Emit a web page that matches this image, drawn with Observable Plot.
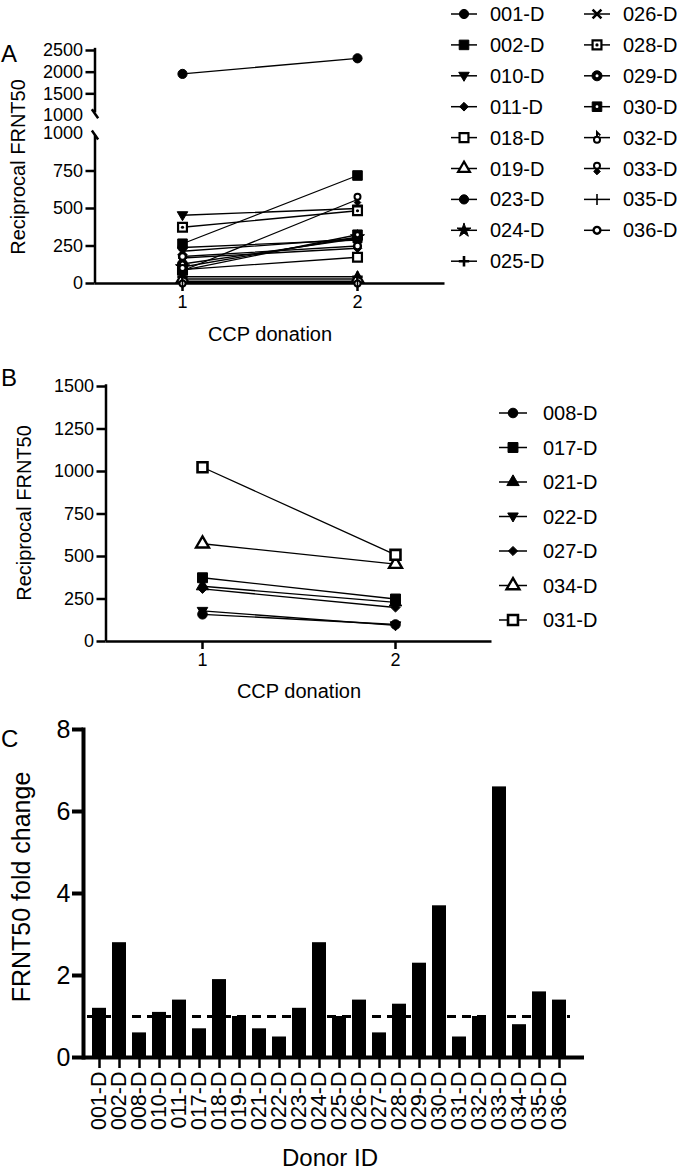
<!DOCTYPE html>
<html><head><meta charset="utf-8">
<script src="https://cdn.jsdelivr.net/npm/d3@7"></script>
<script src="https://cdn.jsdelivr.net/npm/@observablehq/plot@0.6"></script>
<style>
html,body{margin:0;padding:0;background:#fff;}
#root{position:relative;width:677px;height:1171px;overflow:hidden;font-family:'Liberation Sans',Arial,Helvetica,sans-serif;}
</style></head><body><div id="root"></div>
<script>
// ---------------- DATA ----------------
const donations = [1, 2];
const donorsA = ["001-D","002-D","010-D","011-D","018-D","019-D","023-D","024-D","025-D","026-D","028-D","029-D","030-D","032-D","033-D","035-D","036-D"];
const frnt1A  = [1960, 265, 455, 170, 92, 30, 240, 110, 45, 215, 375, 130, 88, 15, 85, 5, 180];
const frnt2A  = [2320, 720, 500, 235, 175, 30, 290, 310, 45, 300, 485, 300, 325, 15, 560, 8, 250];
const donorsB = ["008-D","017-D","021-D","022-D","027-D","034-D","031-D"];
const frnt1B  = [160, 375, 325, 180, 310, 575, 1025];
const frnt2B  = [100, 250, 230, 95, 200, 455, 510];
const donorsC = ["001-D","002-D","008-D","010-D","011-D","017-D","018-D","019-D","021-D","022-D","023-D","024-D","025-D","026-D","027-D","028-D","029-D","030-D","031-D","032-D","033-D","034-D","035-D","036-D"];
const foldC   = [1.2, 2.8, 0.6, 1.1, 1.4, 0.7, 1.9, 1.0, 0.7, 0.5, 1.2, 2.8, 1.0, 1.4, 0.6, 1.3, 2.3, 3.7, 0.5, 1.0, 6.6, 0.8, 1.6, 1.4];
const ticksAUpper = [1500, 2000, 2500];
const ticksALower = [0, 250, 500, 750];
const breakValue = 1000;
const ticksB = [0, 250, 500, 750, 1000, 1250, 1500];
const ticksC = [0, 2, 4, 6, 8];
const foldReference = 1;

// ---------------- SYMBOLS / STYLES ----------------
const rad = s => Math.sqrt(s / Math.PI);
const SYM = {
  circle: d3.symbolCircle,
  square: d3.symbolSquare,
  triangle: d3.symbolTriangle,
  star: d3.symbolStar,
  diamond: {draw(c, s){ const r = rad(s)*1.15; c.moveTo(0,-r); c.lineTo(r,0); c.lineTo(0,r); c.lineTo(-r,0); c.closePath(); }},
  triDown: {draw(c, s){ const r = rad(s); c.moveTo(-r*1.2,-r*0.8); c.lineTo(r*1.2,-r*0.8); c.lineTo(0,r*1.25); c.closePath(); }},
  plus: {draw(c, s){ const r = rad(s); c.moveTo(-r,0); c.lineTo(r,0); c.moveTo(0,-r); c.lineTo(0,r); }},
  times: {draw(c, s){ const r = rad(s)*0.85; c.moveTo(-r,-r); c.lineTo(r,r); c.moveTo(r,-r); c.lineTo(-r,r); }},
  vline: {draw(c, s){ const r = rad(s); c.moveTo(0,-r); c.lineTo(0,r); }},
  slash: {draw(c, s){ const r = rad(s); c.moveTo(-r*0.7,-r); c.lineTo(r*0.7,r); }},
  flag032: {draw(c, s){ const r = rad(s); const cr = r*0.55, cy = r*0.4;
    c.moveTo(cr, cy); c.arc(0, cy, cr, 0, 2*Math.PI);
    c.moveTo(0, cy - cr); c.lineTo(0, -r); c.lineTo(r*0.6, -r*0.4); }},
  circleTop: {draw(c, s){ const r = rad(s); const cr = r*0.5, cy = -r*0.45; c.moveTo(cr, cy); c.arc(0, cy, cr, 0, 2*Math.PI); }},
  diamondBottom: {draw(c, s){ const r = rad(s); const d = r*0.55, cy = r*0.5; c.moveTo(0,cy-d); c.lineTo(d,cy); c.lineTo(0,cy+d); c.lineTo(-d,cy); c.closePath(); }}
};
const markerLayers = {
  "001-D": [{sym:"circle", r:4.6, fill:"black"}],
  "002-D": [{sym:"square", r:5.4, fill:"black"}],
  "010-D": [{sym:"triDown", r:4.4, fill:"black"}],
  "011-D": [{sym:"diamond", r:3.8, fill:"black"}],
  "018-D": [{sym:"square", r:5, fill:"white", sw:2.2}],
  "019-D": [{sym:"triangle", r:4.4, fill:"white", sw:2.2}],
  "023-D": [{sym:"circle", r:4.6, fill:"black"}],
  "024-D": [{sym:"star", r:4.4, fill:"black"}],
  "025-D": [{sym:"plus", r:5.2, sw:2.6}],
  "026-D": [{sym:"times", r:5.2, sw:2.6}],
  "028-D": [{sym:"square", r:5, fill:"white", sw:2.2}, {sym:"circle", r:1.6, fill:"black", sw:0}],
  "029-D": [{sym:"circle", r:5, fill:"black"}, {sym:"circle", r:1.5, fill:"white", sw:0}],
  "030-D": [{sym:"square", r:5.4, fill:"black"}, {sym:"circle", r:1.4, fill:"white", sw:0}],
  "032-D": [{sym:"flag032", r:5.5, fill:"white", sw:2}],
  "033-D": [{sym:"circleTop", r:6, fill:"white", sw:2}, {sym:"diamondBottom", r:6, fill:"black"}],
  "035-D": [{sym:"vline", r:5.5, sw:1.6}],
  "036-D": [{sym:"circle", r:3.4, fill:"white", sw:2.4}],
  "008-D": [{sym:"circle", r:4.8, fill:"black"}],
  "017-D": [{sym:"square", r:5.6, fill:"black"}],
  "021-D": [{sym:"triangle", r:4.6, fill:"black"}],
  "022-D": [{sym:"triDown", r:4.4, fill:"black"}],
  "027-D": [{sym:"diamond", r:4, fill:"black"}],
  "034-D": [{sym:"triangle", r:4.8, fill:"white", sw:2.4}],
  "031-D": [{sym:"square", r:5.6, fill:"white", sw:2.6}]
};

const FONT = "'Liberation Sans', Arial, Helvetica, sans-serif";
const root = document.getElementById("root");

function longRows(donors, v1, v2) {
  const rows = [];
  donors.forEach((d, i) => { rows.push({donor: d, donation: donations[0], value: v1[i]}); rows.push({donor: d, donation: donations[1], value: v2[i]}); });
  return rows;
}
function markerMarks(rows) {
  const marks = [];
  const donors = Array.from(new Set(rows.map(d => d.donor)));
  for (const donor of donors) {
    const sub = rows.filter(d => d.donor === donor);
    for (const L of markerLayers[donor]) {
      marks.push(Plot.dot(sub, {x: "donation", y: "value", symbol: SYM[L.sym], r: L.r,
        fill: L.fill ?? "none", stroke: L.sw === 0 ? "none" : "black", strokeWidth: L.sw ?? 1}));
    }
  }
  return marks;
}
function place(svg, top) {
  svg.style.position = "absolute"; svg.style.left = "0px"; svg.style.top = top + "px";
  svg.style.overflow = "visible";
  root.appendChild(svg);
}
const baseStyle = {fontFamily: FONT, fontSize: "18px", background: "transparent", color: "black", overflow: "visible"};
const TICKFS = 18;

// ---------------- PANEL A ----------------
const rowsA = longRows(donorsA, frnt1A, frnt2A);
const rowsAUpper = rowsA.filter(d => d.value > breakValue);
const rowsALower = rowsA.filter(d => d.value <= breakValue);
const xA = {domain: [0.5, 2.5]};

const plotAUpper = Plot.plot({
  width: 677, height: 80, marginTop: 10, marginBottom: 5, marginLeft: 94.5, marginRight: 232.5,
  style: baseStyle,
  x: {...xA, axis: null},
  y: {domain: [breakValue, 2500], axis: null},
  marks: [
    Plot.ruleX([0.5], {y1: breakValue + 60, y2: 2550, strokeWidth: 2.5}),
    Plot.axisY({ticks: ticksAUpper, tickFormat: "d", tickSize: 9, tickPadding: 3, fontSize: TICKFS, strokeWidth: 2.5, label: null}),
    Plot.axisY({ticks: [breakValue], tickFormat: "d", tickSize: 0, tickPadding: 12, fontSize: TICKFS, label: null}),
    Plot.dot([breakValue], {x: () => 0.5, y: d => d + 40, symbol: SYM.slash, r: 4.5, stroke: "black", strokeWidth: 2.5, fill: "none"}),
    Plot.line(rowsAUpper, {x: "donation", y: "value", z: "donor", stroke: "black", strokeWidth: 1.3}),
    ...markerMarks(rowsAUpper)
  ]
});
place(plotAUpper, 40);

const plotALower = Plot.plot({
  width: 677, height: 221, marginTop: 9, marginBottom: 62, marginLeft: 94.5, marginRight: 232.5,
  style: baseStyle,
  x: {...xA, axis: null},
  y: {domain: [0, breakValue], axis: null},
  marks: [
    Plot.ruleX([0.5], {y1: 0, y2: breakValue - 15, strokeWidth: 2.5}),
    Plot.ruleY([0], {x1: 0.5, x2: 2.5, strokeWidth: 2.5}),
    Plot.axisY({ticks: ticksALower, tickFormat: "d", tickSize: 9, tickPadding: 3, fontSize: TICKFS, strokeWidth: 2.5, label: null}),
    Plot.axisY({ticks: [breakValue], tickFormat: "d", tickSize: 0, tickPadding: 12, fontSize: TICKFS, label: null}),
    Plot.dot([breakValue], {x: () => 0.5, y: d => d - 10, symbol: SYM.slash, r: 4.5, stroke: "black", strokeWidth: 2.5, fill: "none"}),
    Plot.axisX({ticks: donations, tickFormat: "d", tickSize: 8, tickPadding: 4, fontSize: TICKFS, strokeWidth: 2.5, label: null}),
    Plot.line(rowsALower, {x: "donation", y: "value", z: "donor", stroke: "black", strokeWidth: 1.3}),
    ...markerMarks(rowsALower)
  ]
});
place(plotALower, 124);

// ---------------- PANEL B ----------------
const rowsB = longRows(donorsB, frnt1B, frnt2B);
const plotB = Plot.plot({
  width: 677, height: 331, marginTop: 16, marginBottom: 60, marginLeft: 105.5, marginRight: 185.5,
  style: baseStyle,
  x: {domain: [0.5, 2.5], axis: null},
  y: {domain: [0, 1500], axis: null},
  marks: [
    Plot.ruleX([0.5], {y1: 0, y2: 1510, strokeWidth: 2.5}),
    Plot.ruleY([0], {x1: 0.5, x2: 2.5, strokeWidth: 2.5}),
    Plot.axisY({ticks: ticksB, tickFormat: "d", tickSize: 9, tickPadding: 3, fontSize: TICKFS, strokeWidth: 2.5, label: null}),
    Plot.axisX({ticks: donations, tickFormat: "d", tickSize: 8, tickPadding: 4, fontSize: TICKFS, strokeWidth: 2.5, label: null}),
    Plot.line(rowsB, {x: "donation", y: "value", z: "donor", stroke: "black", strokeWidth: 1.3}),
    ...markerMarks(rowsB)
  ]
});
place(plotB, 370);

// ---------------- PANEL C ----------------
const rowsC = donorsC.map((d, i) => ({donor: d, fold: foldC[i]}));
const plotC = Plot.plot({
  width: 677, height: 422, marginTop: 14, marginBottom: 80, marginLeft: 83, marginRight: 93,
  style: baseStyle,
  x: {domain: donorsC, paddingInner: 0.3, paddingOuter: 0.61, align: 0.33, axis: null},
  y: {domain: [0, 8], axis: null},
  marks: [
    Plot.barY(rowsC, {x: "donor", y: "fold", fill: "black"}),
    Plot.ruleY([foldReference], {stroke: "black", strokeWidth: 3, strokeDasharray: "9,6", insetLeft: 4, insetRight: 14}),
    Plot.frame({anchor: "left", strokeWidth: 4, stroke: "black"}),
    Plot.ruleY([0], {strokeWidth: 4}),
    Plot.axisY({ticks: ticksC, tickSize: 11, tickPadding: 2, fontSize: 25, strokeWidth: 4, label: null}),
    Plot.axisX({tickRotate: -90, tickSize: 11, tickPadding: 3, fontSize: 21.5, strokeWidth: 2.5, label: null})
  ]
});
place(plotC, 715);

// ---------------- TEXT & LEGENDS ----------------
const ov = d3.select(root).append("svg").attr("width", 677).attr("height", 1171)
  .style("position", "absolute").style("left", "0px").style("top", "0px")
  .style("font-family", FONT).style("pointer-events", "none");

function txt(x, y, s, size, opts = {}) {
  const t = ov.append("text").attr("x", x).attr("y", y).attr("font-size", size)
    .attr("text-anchor", opts.anchor || "middle").attr("dominant-baseline", "central").attr("fill", "black").text(s);
  if (opts.rotate) t.attr("transform", `rotate(${opts.rotate},${x},${y})`);
  return t;
}
txt(1, 53, "A", 24, {anchor: "start"});
txt(18, 167, "Reciprocal FRNT50", 20, {rotate: -90});
txt(270, 334, "CCP donation", 20);
txt(1, 377, "B", 24, {anchor: "start"});
txt(24, 513, "Reciprocal FRNT50", 20, {rotate: -90});
txt(299, 691, "CCP donation", 20);
txt(1, 738, "C", 24, {anchor: "start"});
txt(21, 887, "FRNT50 fold change", 25, {rotate: -90});
txt(330, 1157, "Donor ID", 24);

function legendEntry(donor, cx, cy, tx, half) {
  const g = ov.append("g");
  g.append("line").attr("x1", cx - half).attr("x2", cx + half).attr("y1", cy).attr("y2", cy)
    .attr("stroke", "black").attr("stroke-width", 1.5);
  for (const L of markerLayers[donor]) {
    g.append("path").attr("transform", `translate(${cx},${cy})`)
      .attr("d", d3.symbol(SYM[L.sym], Math.PI * L.r * L.r)())
      .attr("fill", L.fill ?? "none").attr("stroke", L.sw === 0 ? "none" : "black").attr("stroke-width", L.sw ?? 1);
  }
  txt(tx, cy, donor, 20, {anchor: "start"});
}
donorsA.forEach((d, i) => {
  const col = i < 9 ? 0 : 1, row = i < 9 ? i : i - 9;
  legendEntry(d, col === 0 ? 464 : 597, 14 + row * 30.9, col === 0 ? 490 : 623, 13);
});
donorsB.forEach((d, i) => legendEntry(d, 513, 413 + i * 34.5, 543, 14));
</script></body></html>
